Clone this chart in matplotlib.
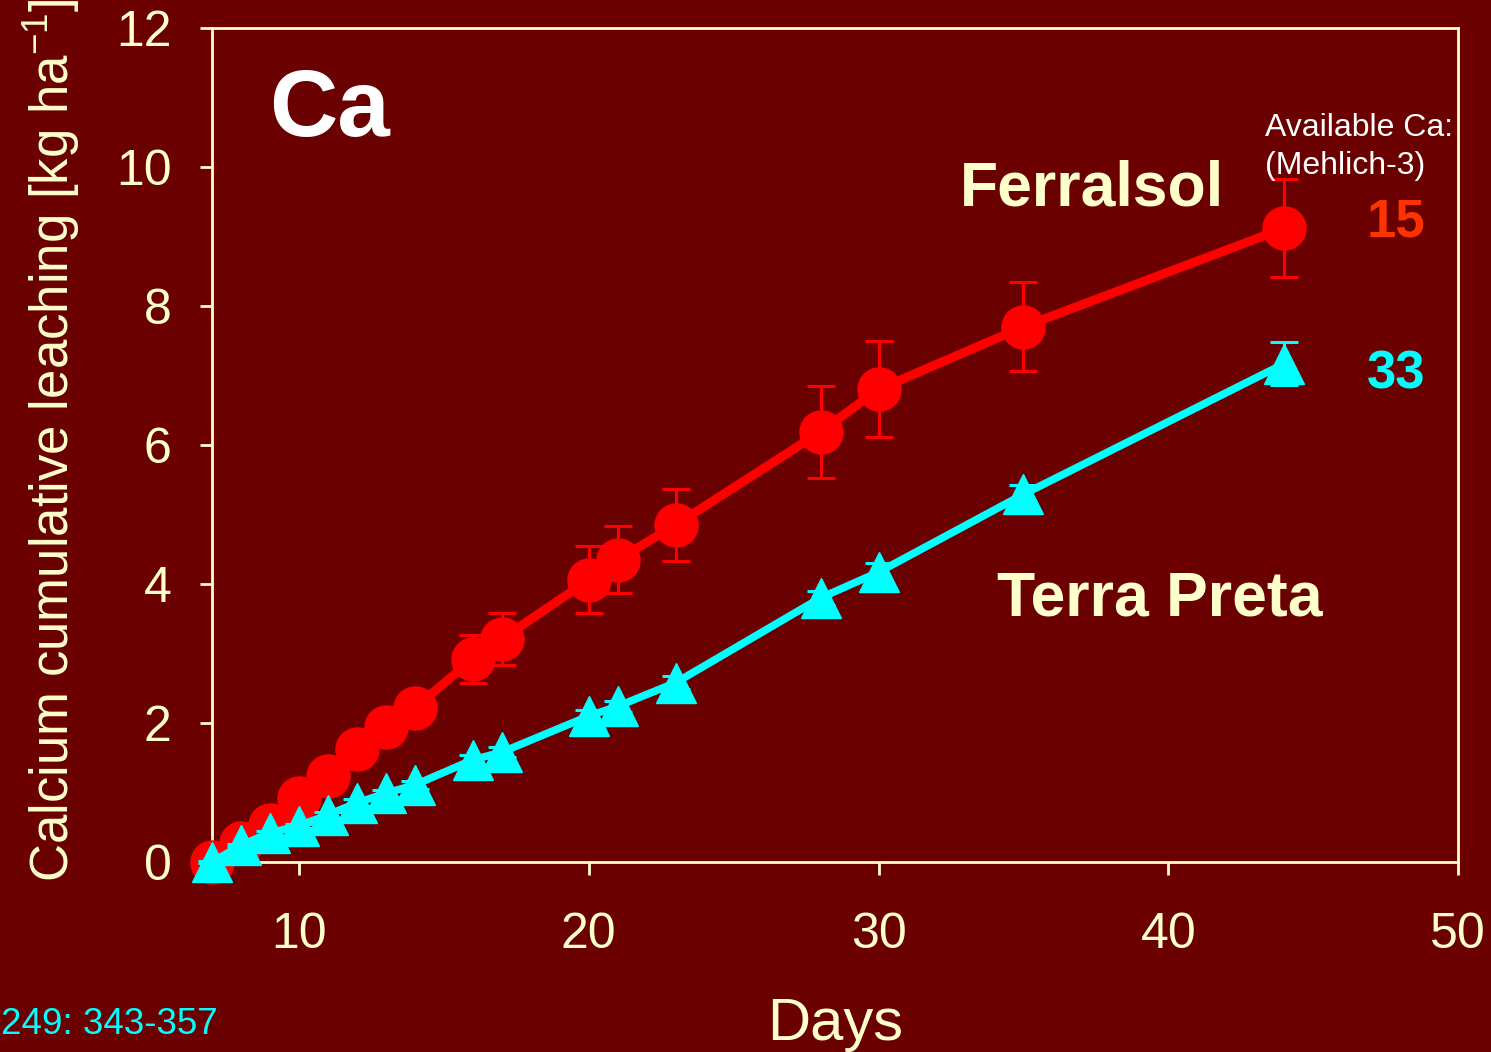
import matplotlib
matplotlib.use("Agg")
import matplotlib.pyplot as plt

days = [7, 8, 9, 10, 11, 12, 13, 14, 16, 17, 20, 21, 23, 28, 30, 35, 44]
ferralsol = [0.0, 0.27, 0.53, 0.92, 1.24, 1.63, 1.94, 2.22, 2.92, 3.21, 4.06, 4.35, 4.85, 6.19, 6.80, 7.70, 9.12]
ferralsol_err = [0.02, 0.05, 0.07, 0.1, 0.12, 0.15, 0.18, 0.2, 0.35, 0.37, 0.48, 0.48, 0.52, 0.66, 0.69, 0.64, 0.71]
terra_preta = [0.0, 0.24, 0.42, 0.52, 0.68, 0.85, 0.99, 1.11, 1.47, 1.58, 2.10, 2.24, 2.58, 3.80, 4.17, 5.29, 7.17]
terra_preta_err = [0.01, 0.02, 0.03, 0.03, 0.04, 0.05, 0.05, 0.06, 0.07, 0.07, 0.08, 0.08, 0.09, 0.10, 0.13, 0.13, 0.31]
xticks = [10, 20, 30, 40, 50]
yticks = [0, 2, 4, 6, 8, 10, 12]

BG = "#6B0000"
CREAM = "#FFFFCC"
RED = "#FF0000"
CYAN = "#00FFFF"

plt.rcParams['font.family'] = ['Liberation Sans', 'DejaVu Sans']
plt.rcParams['mathtext.fontset'] = 'custom'
plt.rcParams['mathtext.rm'] = 'Liberation Sans'
plt.rcParams['mathtext.it'] = 'Liberation Sans'

fig = plt.figure(figsize=(14.91, 10.52), dpi=100, facecolor=BG)
ax = fig.add_axes([0.1422, 0.1806, 0.9779 - 0.1422, 0.9734 - 0.1806], facecolor=BG)

ax.errorbar(days, ferralsol, yerr=ferralsol_err, color=RED, lw=6.5, marker='o',
            markersize=31, ecolor=RED, elinewidth=2.2, capsize=10, capthick=2.2,
            clip_on=False, zorder=3)
ax.errorbar(days, terra_preta, yerr=terra_preta_err, color=CYAN, lw=5.5, marker='^',
            markersize=29, ecolor=CYAN, elinewidth=2.2, capsize=10, capthick=2.2,
            clip_on=False, zorder=4)

ax.set_xlim(7, 50)
ax.set_ylim(0, 12)
ax.set_xticks(xticks)
ax.set_yticks(yticks)
for s in ax.spines.values():
    s.set_color(CREAM)
    s.set_linewidth(2)
ax.tick_params(axis='both', colors=CREAM, direction='out', length=9, width=2, labelsize=36)
ax.tick_params(axis='x', pad=27)
ax.tick_params(axis='y', pad=20)
ax.tick_params(top=False, right=False)

fig.text(52 / 1491, 1 - 440 / 1052, 'Calcium cumulative leaching [kg ha$^{-1}$]',
         color=CREAM, fontsize=38, rotation=90, ha='center', va='center')
fig.text(835 / 1491, 1 - 1024 / 1052, 'Days', color=CREAM, fontsize=43,
         ha='center', va='center')

ax.text(0.046, 0.9, 'Ca', transform=ax.transAxes, color='white', fontsize=68,
        fontweight='bold', va='center', ha='left')
ax.text(0.6, 0.807, 'Ferralsol', transform=ax.transAxes, color=CREAM, fontsize=45,
        fontweight='bold', va='center', ha='left')
ax.text(0.63, 0.315, 'Terra Preta', transform=ax.transAxes, color=CREAM, fontsize=45,
        fontweight='bold', va='center', ha='left')
ax.text(0.845, 0.88, 'Available Ca:', transform=ax.transAxes, color='white', fontsize=23,
        va='center', ha='left')
ax.text(0.845, 0.834, '(Mehlich-3)', transform=ax.transAxes, color='white', fontsize=23,
        va='center', ha='left')
ax.text(0.974, 0.767, '15', transform=ax.transAxes, color='#FF3300', fontsize=38,
        fontweight='bold', va='center', ha='right')
ax.text(0.974, 0.585, '33', transform=ax.transAxes, color=CYAN, fontsize=38,
        fontweight='bold', va='center', ha='right')

fig.text(0.001, 1 - 1025 / 1052, '249: 343-357', color=CYAN, fontsize=26.5,
         ha='left', va='center')

fig.savefig('out.png', dpi=100, facecolor=BG)
